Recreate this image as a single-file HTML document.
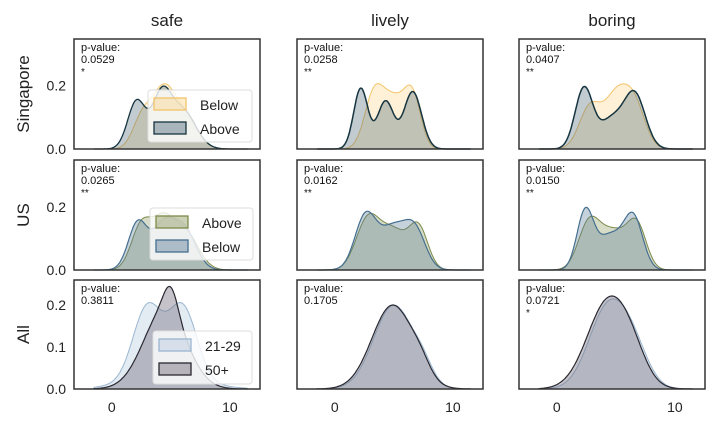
<!DOCTYPE html>
<html><head><meta charset="utf-8"><style>
body{margin:0;background:#fff;}
svg text{font-family:"Liberation Sans",Arial,sans-serif;}
</style></head><body>
<svg id="s" width="720" height="427" xmlns="http://www.w3.org/2000/svg"></svg>
<script>
const s=document.getElementById('s');
let h='';
const colX=[74,297,519], W=186;
const rows=[{top:39,bot:149,ymax:0.346},{top:160,bot:270,ymax:0.35},{top:280,bot:389,ymax:0.26}];
const xmin=-3.2,xmax=12.55;
function X(c,v){return colX[c]+(v-xmin)/(xmax-xmin)*W;}
function Y(r,v){const R=rows[r];return R.bot-(v/R.ymax)*(R.bot-R.top);}
function f(m,x){let t=0;for(const [mu,sg,a] of m)t+=a*Math.exp(-(x-mu)*(x-mu)/(2*sg*sg));return t;}
function curve(c,r,m,fill,stroke,op,sw){
 let d='M'+X(c,-1.5).toFixed(1)+','+Y(r,0).toFixed(1);
 for(let x=-1.5;x<=11.5;x+=0.05){d+=' L'+X(c,x).toFixed(1)+','+Y(r,f(m,x)).toFixed(1);}
 d+=' L'+X(c,11.5).toFixed(1)+','+Y(r,0).toFixed(1);
 h+=`<path d="${d} Z" fill="${fill}" fill-opacity="${op}" stroke="none"/>`;
 h+=`<path d="${d}" fill="none" stroke="${stroke}" stroke-width="${sw}"/>`;
}
const OR=['#fbd78e','#f2c46a'], TE=['#4d6b78','#163540'], OL=['#8d9a5e','#7c8a4a'], BL=['#5b7f99','#456f8f'], LB=['#b9cde0','#9ab6d0'], DK=['#6e6878','#2a2830'];
// row 0
curve(0,0,[[2.6,0.8,0.10],[4.3,0.9,0.16],[6.0,1.1,0.11]],OR[0],OR[1],0.35,1);
curve(0,0,[[2.1,0.75,0.15],[4.2,0.8,0.16],[6.0,1.1,0.12]],TE[0],TE[1],0.35,1.3);
curve(1,0,[[3.3,0.8,0.16],[5.0,1.0,0.15],[6.6,0.7,0.15]],OR[0],OR[1],0.35,1);
curve(1,0,[[2.2,0.6,0.19],[4.3,0.7,0.15],[6.6,0.75,0.18]],TE[0],TE[1],0.35,1.5);
curve(2,0,[[2.8,0.9,0.13],[5.0,1.0,0.16],[6.6,0.9,0.13]],OR[0],OR[1],0.35,1);
curve(2,0,[[2.3,0.75,0.19],[4.6,1.0,0.09],[6.6,0.9,0.17]],TE[0],TE[1],0.35,1.5);
// row 1
curve(0,1,[[2.5,0.85,0.14],[4.3,0.9,0.14],[6.2,1.1,0.12]],OL[0],OL[1],0.35,1);
curve(0,1,[[2.2,0.8,0.15],[4.3,0.9,0.13],[6.1,1.0,0.13]],BL[0],BL[1],0.35,1.2);
curve(1,1,[[2.8,1.0,0.16],[5.0,1.1,0.12],[7.1,0.8,0.13]],OL[0],OL[1],0.35,1);
curve(1,1,[[2.6,0.9,0.17],[4.9,1.1,0.13],[6.8,0.9,0.12]],BL[0],BL[1],0.35,1.2);
curve(2,1,[[2.7,0.9,0.14],[4.8,1.2,0.12],[6.8,0.8,0.13]],OL[0],OL[1],0.35,1);
curve(2,1,[[2.4,0.7,0.18],[4.5,1.1,0.11],[6.5,0.8,0.16]],BL[0],BL[1],0.35,1.2);
// row 2
curve(0,2,[[3.0,1.2,0.17],[6.0,1.2,0.17],[4.5,3,0.03]],LB[0],LB[1],0.4,1);
curve(0,2,[[4.5,1.8,0.19],[5.0,0.6,0.06]],DK[0],DK[1],0.4,1.2);
curve(1,2,[[5.0,1.7,0.2],[7.5,0.8,0.03]],LB[0],LB[1],0.4,1);
curve(1,2,[[4.9,1.75,0.2],[7.3,0.8,0.025]],DK[0],DK[1],0.4,1.2);
curve(2,2,[[4.3,1.6,0.19],[6.5,1.3,0.08]],LB[0],LB[1],0.4,1);
curve(2,2,[[4.4,1.8,0.21],[6.4,1.2,0.04]],DK[0],DK[1],0.4,1.2);
// frames, ticks
const pv=[['0.0529','*'],['0.0258','**'],['0.0407','**'],['0.0265','**'],['0.0162','**'],['0.0150','**'],['0.3811',''],['0.1705',''],['0.0721','*']];
for(let r=0;r<3;r++)for(let c=0;c<3;c++){
 const R=rows[r],x0=colX[c];
 h+=`<rect x="${x0}" y="${R.top}" width="${W}" height="${R.bot-R.top}" fill="none" stroke="#333" stroke-width="1.5"/>`;
 const p=pv[r*3+c];
 h+=`<text x="${x0+7}" y="${R.top+12}" font-size="11" fill="#111">p-value:</text><text x="${x0+7}" y="${R.top+24}" font-size="11" fill="#111">${p[0]}</text>`;
 if(p[1])h+=`<text x="${x0+7}" y="${R.top+36}" font-size="10" fill="#111">${p[1]}</text>`;
}
const yt=[[[0,'0.0'],[0.2,'0.2']],[[0,'0.0'],[0.2,'0.2']],[[0,'0.0'],[0.1,'0.1'],[0.2,'0.2']]];
for(let r=0;r<3;r++)for(const [v,t] of yt[r])h+=`<text x="66" y="${Y(r,v)+5}" font-size="14" text-anchor="end" fill="#222">${t}</text>`;
for(let c=0;c<3;c++)for(const v of [0,10])h+=`<text x="${X(c,v)}" y="412" font-size="14" text-anchor="middle" fill="#222">${v}</text>`;
const tt=['safe','lively','boring'];
for(let c=0;c<3;c++)h+=`<text x="${colX[c]+W/2}" y="26" font-size="17" text-anchor="middle" fill="#222">${tt[c]}</text>`;
const rl=['Singapore','US','All'];
for(let r=0;r<3;r++){const cy=(rows[r].top+rows[r].bot)/2;h+=`<text transform="translate(29,${cy}) rotate(-90)" font-size="17" text-anchor="middle" fill="#222">${rl[r]}</text>`;}
function leg(x,y,w,hh,items){
 h+=`<rect x="${x}" y="${y}" width="${w}" height="${hh}" rx="3" fill="#fff" fill-opacity="0.8" stroke="#ddd"/>`;
 items.forEach((it,i)=>{const yy=y+8+i*24;
  h+=`<rect x="${x+6}" y="${yy}" width="32" height="12" fill="${it[1]}" fill-opacity="0.45" stroke="${it[2]}" stroke-width="1.3"/>`;
  h+=`<text x="${x+52}" y="${yy+12}" font-size="14" fill="#222">${it[0]}</text>`;});
}
leg(148,90,104,52,[['Below',OR[0],OR[1]],['Above',TE[0],TE[1]]]);
leg(150,208,103,52,[['Above',OL[0],OL[1]],['Below',BL[0],BL[1]]]);
leg(153,331,99,53,[['21-29',LB[0],LB[1]],['50+',DK[0],DK[1]]]);
s.innerHTML=h;
</script>
</body></html>
